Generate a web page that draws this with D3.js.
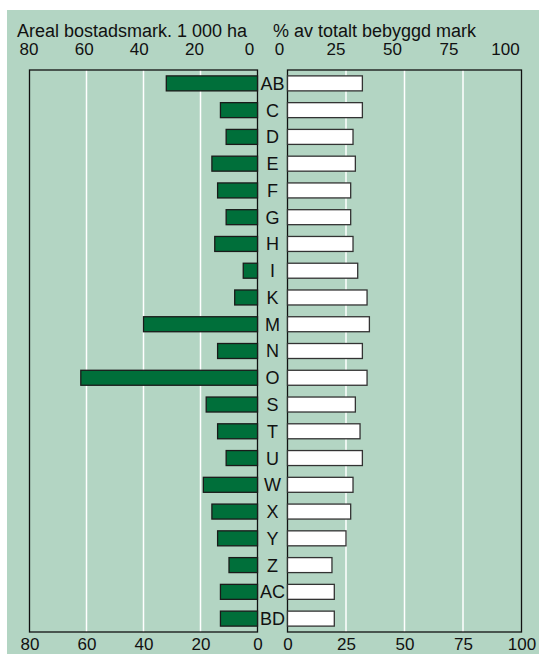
<!DOCTYPE html>
<html>
<head>
<meta charset="utf-8">
<script src="https://cdn.jsdelivr.net/npm/d3@7"></script>
<style>
  body { margin: 0; background: #fff; }
  text { font-family: "Liberation Sans", Arial, sans-serif; fill: #111; }
</style>
</head>
<body>
<svg id="chart" width="539" height="654"></svg>
<script>
// Data
var regions = ["AB","C","D","E","F","G","H","I","K","M","N","O","S","T","U","W","X","Y","Z","AC","BD"];
// area of residential land, 1 000 ha
var areaValues = [32,13,11,16,14,11,15,5,8,40,14,62,18,14,11,19,16,14,10,13,13];
// % of total built-up land
var shareValues = [32,32,28,29,27,27,28,30,34,35,32,34,29,31,32,28,27,25,19,20,20];
var areaTicks = [80,60,40,20,0];
var shareTicks = [0,25,50,75,100];
var areaGrid = [60,40,20];
var shareGrid = [25,50,75];

var svg = d3.select("#chart");

var top0 = 70, bottom0 = 632;

// Scales
var xArea = d3.scaleLinear().domain([80, 0]).range([29.5, 257.5]);
var xShare = d3.scaleLinear().domain([0, 100]).range([287.5, 521.5]);
// the top labels sit a bit squeezed to the left in the original
var xAreaTop = d3.scaleLinear().domain([80, 0]).range([28.5, 249]);
var xShareTop = d3.scaleLinear().domain([0, 100]).range([279, 505]);
var y = d3.scaleBand().domain(regions).range([top0, bottom0])
    .paddingInner(0.44).paddingOuter(0.22);

// Background panel
svg.append("rect")
    .attr("x", 7).attr("y", 10)
    .attr("width", 532).attr("height", 644)
    .attr("fill", "#b3d5c3");

// Titles
svg.append("text").attr("x", 17).attr("y", 37)
    .style("font-size", "18px")
    .text("Areal bostadsmark. 1 000 ha");
svg.append("text").attr("x", 273).attr("y", 37)
    .style("font-size", "18px")
    .text("% av totalt bebyggd mark");

// Gridlines
svg.append("g").selectAll("line")
    .data(areaGrid).enter().append("line")
    .attr("x1", function (d) { return xArea(d); })
    .attr("x2", function (d) { return xArea(d); })
    .attr("y1", top0).attr("y2", bottom0)
    .attr("stroke", "#fff").attr("stroke-width", 1.5);
svg.append("g").selectAll("line")
    .data(shareGrid).enter().append("line")
    .attr("x1", function (d) { return xShare(d); })
    .attr("x2", function (d) { return xShare(d); })
    .attr("y1", top0).attr("y2", bottom0)
    .attr("stroke", "#fff").attr("stroke-width", 1.5);

// Frames
svg.append("rect")
    .attr("x", xArea(80)).attr("y", top0)
    .attr("width", xArea(0) - xArea(80)).attr("height", bottom0 - top0)
    .attr("fill", "none").attr("stroke", "#111").attr("stroke-width", 1.3);
svg.append("rect")
    .attr("x", xShare(0)).attr("y", top0)
    .attr("width", xShare(100) - xShare(0)).attr("height", bottom0 - top0)
    .attr("fill", "none").attr("stroke", "#111").attr("stroke-width", 1.3);

// Bars - left
svg.append("g").selectAll("rect")
    .data(regions).enter().append("rect")
    .attr("x", function (d, i) { return xArea(areaValues[i]); })
    .attr("y", function (d) { return y(d); })
    .attr("width", function (d, i) { return xArea(0) - xArea(areaValues[i]); })
    .attr("height", y.bandwidth())
    .attr("fill", "#006f3a")
    .attr("stroke", "#1a1a1a").attr("stroke-width", 1.3);

// Bars - right
svg.append("g").selectAll("rect")
    .data(regions).enter().append("rect")
    .attr("x", xShare(0))
    .attr("y", function (d) { return y(d); })
    .attr("width", function (d, i) { return xShare(shareValues[i]) - xShare(0); })
    .attr("height", y.bandwidth())
    .attr("fill", "#fff")
    .attr("stroke", "#333").attr("stroke-width", 1.3);

// Category labels
svg.append("g").selectAll("text")
    .data(regions).enter().append("text")
    .attr("x", (xArea(0) + xShare(0)) / 2)
    .attr("y", function (d) { return y(d) + y.bandwidth() / 2; })
    .attr("dy", "0.36em")
    .attr("text-anchor", "middle")
    .style("font-size", "18px")
    .text(function (d) { return d; });

// Axes (labels only)
function styleAxis(g) {
    g.select(".domain").remove();
    g.selectAll("line").remove();
    g.selectAll("text")
        .style("font-size", "17px")
        .style("font-family", "'Liberation Sans', Arial, sans-serif")
        .attr("fill", "#111");
}
svg.append("g").attr("transform", "translate(0,55)")
    .call(d3.axisTop(xAreaTop).tickValues(areaTicks).tickSize(0).tickPadding(0))
    .call(styleAxis);
svg.append("g").attr("transform", "translate(0,55)")
    .call(d3.axisTop(xShareTop).tickValues(shareTicks).tickSize(0).tickPadding(0))
    .call(styleAxis);
svg.append("g").attr("transform", "translate(0,650)")
    .call(d3.axisTop(xArea).tickValues(areaTicks).tickSize(0).tickPadding(0))
    .call(styleAxis);
svg.append("g").attr("transform", "translate(0,650)")
    .call(d3.axisTop(xShare).tickValues(shareTicks).tickSize(0).tickPadding(0))
    .call(styleAxis);
</script>
</body>
</html>
